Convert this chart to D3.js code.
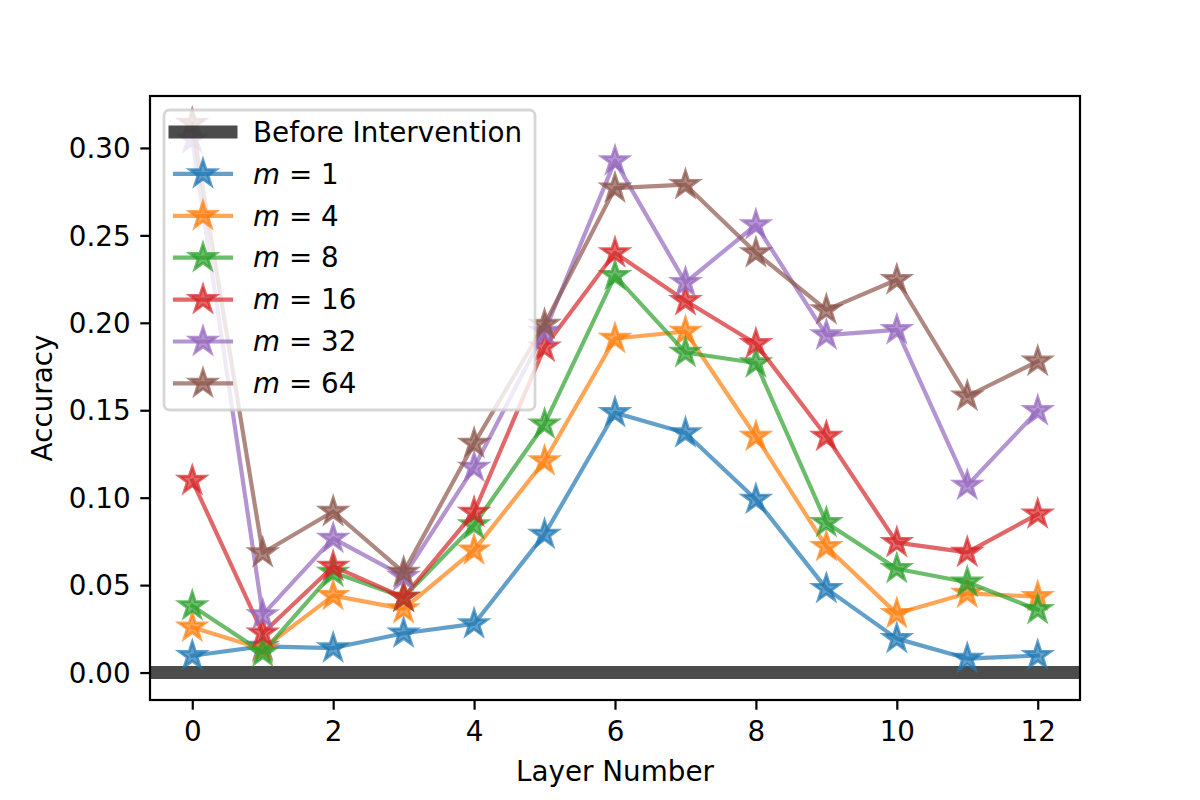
<!DOCTYPE html>
<html>
<head>
<meta charset="utf-8">
<script src="https://cdn.jsdelivr.net/npm/d3@7"></script>
<style>
  body { margin: 0; background: #fff; }
  text { font-family: "DejaVu Sans", sans-serif; }
</style>
</head>
<body>
<svg id="chart" width="1200" height="800"></svg>
<script>
// data
const layers = [0, 1, 2, 3, 4, 5, 6, 7, 8, 9, 10, 11, 12];
const m1  = [0.0096, 0.0150, 0.0140, 0.0225, 0.0278, 0.079, 0.1486, 0.137, 0.099, 0.048, 0.0194, 0.008, 0.0097];
const m4  = [0.0259, 0.0135, 0.0440, 0.0364, 0.0700, 0.121, 0.191, 0.195, 0.135, 0.072, 0.0337, 0.0453, 0.0434];
const m8  = [0.0381, 0.0115, 0.0573, 0.0430, 0.0844, 0.142, 0.227, 0.183, 0.177, 0.0857, 0.0594, 0.0516, 0.036];
const m16 = [0.1098, 0.0225, 0.0607, 0.0430, 0.0916, 0.186, 0.240, 0.2126, 0.188, 0.135, 0.0743, 0.0687, 0.0906];
const m32 = [0.305, 0.033, 0.0767, 0.055, 0.1173, 0.195, 0.2926, 0.223, 0.256, 0.193, 0.196, 0.107, 0.1497];
const m64 = [0.314, 0.0684, 0.0921, 0.0573, 0.131, 0.199, 0.277, 0.279, 0.240, 0.2074, 0.2246, 0.158, 0.178];
const baseline = 0.0;

const seriesNames = ["m1", "m4", "m8", "m16", "m32", "m64"];
const seriesLabels = ["1", "4", "8", "16", "32", "64"];
const seriesValues = [m1, m4, m8, m16, m32, m64];
const colors = ["#1f77b4", "#ff7f0e", "#2ca02c", "#d62728", "#9467bd", "#8c564b"];

const xTicks = [0, 2, 4, 6, 8, 10, 12];
const yTicks = [0.00, 0.05, 0.10, 0.15, 0.20, 0.25, 0.30];

const fs = 27.78; // 10pt at 200 dpi
const axL = 150, axR = 1080, axT = 96, axB = 700;

const svg = d3.select("#chart");

// matplotlib-like 5% margins
const xmin = d3.min(layers), xmax = d3.max(layers);
const allVals = seriesValues.flat().concat([baseline]);
const ymin = d3.min(allVals), ymax = d3.max(allVals);
const xScale = d3.scaleLinear()
    .domain([xmin - (xmax - xmin) * 0.05, xmax + (xmax - xmin) * 0.05])
    .range([axL, axR]);
const yScale = d3.scaleLinear()
    .domain([ymin - (ymax - ymin) * 0.05, ymax + (ymax - ymin) * 0.05])
    .range([axB, axT]);

svg.append("defs").append("clipPath").attr("id", "plotclip")
    .append("rect")
    .attr("x", axL).attr("y", axT)
    .attr("width", axR - axL).attr("height", axB - axT);

const plot = svg.append("g").attr("clip-path", "url(#plotclip)");

// star like matplotlib's '*' marker
function starPath(R) {
    const r = R * 0.381966;
    let pts = [];
    for (let i = 0; i < 10; i++) {
        const a = Math.PI / 2 + i * Math.PI / 5;
        const rr = i % 2 == 0 ? R : r;
        pts.push([rr * Math.cos(a), -rr * Math.sin(a)]);
    }
    return "M" + pts.map(p => p[0].toFixed(2) + "," + p[1].toFixed(2)).join("L") + "Z";
}
const star = starPath(13.9);

// before intervention line
plot.append("line")
    .attr("x1", axL).attr("x2", axR)
    .attr("y1", yScale(baseline)).attr("y2", yScale(baseline))
    .attr("stroke", "#000").attr("stroke-opacity", 0.7)
    .attr("stroke-width", 13);

const lineGen = d3.line()
    .x((d, i) => xScale(layers[i]))
    .y(d => yScale(d));

seriesValues.forEach((vals, si) => {
    const g = plot.append("g").attr("class", "series " + seriesNames[si]);
    g.append("path")
        .datum(vals)
        .attr("d", lineGen)
        .attr("fill", "none")
        .attr("stroke", colors[si])
        .attr("stroke-opacity", 0.7)
        .attr("stroke-width", 4.17)
        .attr("stroke-linejoin", "round")
        .attr("stroke-linecap", "square");
    g.selectAll(".mk")
        .data(vals)
        .enter()
        .append("path")
        .attr("class", "mk")
        .attr("d", star)
        .attr("transform", (d, i) => `translate(${xScale(layers[i])},${yScale(d)})`)
        .attr("fill", colors[si]).attr("fill-opacity", 0.7)
        .attr("stroke", colors[si]).attr("stroke-opacity", 0.7)
        .attr("stroke-width", 2.78)
        .attr("stroke-linejoin", "miter");
});

// axes
const xAxis = d3.axisBottom(xScale).tickValues(xTicks).tickSize(9.72).tickPadding(9.72).tickFormat(d3.format("d"));
const yAxis = d3.axisLeft(yScale).tickValues(yTicks).tickSize(9.72).tickPadding(9.72).tickFormat(d3.format(".2f"));

const gx = svg.append("g").attr("transform", `translate(0,${axB})`).call(xAxis);
const gy = svg.append("g").attr("transform", `translate(${axL},0)`).call(yAxis);
[gx, gy].forEach(g => {
    g.select(".domain").remove();
    g.selectAll(".tick line").attr("stroke", "#000").attr("stroke-width", 2.2);
    g.selectAll(".tick text").attr("font-size", fs).attr("fill", "#000")
        .style("font-family", "DejaVu Sans");
});
gx.selectAll(".tick text").attr("dy", "0.76em");
gy.selectAll(".tick text").attr("dy", "0.35em");

svg.append("rect")
    .attr("x", axL).attr("y", axT)
    .attr("width", axR - axL).attr("height", axB - axT)
    .attr("fill", "none").attr("stroke", "#000").attr("stroke-width", 2.2);

svg.append("text")
    .attr("x", (axL + axR) / 2).attr("y", 781)
    .attr("text-anchor", "middle").attr("font-size", fs)
    .text("Layer Number");

svg.append("text")
    .attr("transform", "translate(52,398) rotate(-90)")
    .attr("text-anchor", "middle").attr("font-size", fs)
    .text("Accuracy");

// legend
const leg = svg.append("g");
leg.append("rect")
    .attr("x", 164).attr("y", 110)
    .attr("width", 371).attr("height", 300)
    .attr("rx", 5.5).attr("ry", 5.5)
    .attr("fill", "#fff").attr("fill-opacity", 0.8)
    .attr("stroke", "#ccc").attr("stroke-opacity", 0.8)
    .attr("stroke-width", 2.78);

const rowY = i => 132 + i * 41.9;
const hx1 = 175, hx2 = 231, tx = 253;

leg.append("line")
    .attr("x1", hx1).attr("x2", hx2).attr("y1", rowY(0)).attr("y2", rowY(0))
    .attr("stroke", "#000").attr("stroke-opacity", 0.7)
    .attr("stroke-width", 13).attr("stroke-linecap", "square");
leg.append("text")
    .attr("x", tx).attr("y", rowY(0)).attr("dy", "0.35em")
    .attr("font-size", fs).text("Before Intervention");

seriesLabels.forEach((lab, si) => {
    const y = rowY(si + 1);
    leg.append("line")
        .attr("x1", hx1).attr("x2", hx2).attr("y1", y).attr("y2", y)
        .attr("stroke", colors[si]).attr("stroke-opacity", 0.7)
        .attr("stroke-width", 4.17).attr("stroke-linecap", "square");
    leg.append("path")
        .attr("d", star)
        .attr("transform", `translate(${(hx1 + hx2) / 2},${y})`)
        .attr("fill", colors[si]).attr("fill-opacity", 0.7)
        .attr("stroke", colors[si]).attr("stroke-opacity", 0.7)
        .attr("stroke-width", 2.78);
    const t = leg.append("text")
        .attr("x", tx).attr("y", y).attr("dy", "0.35em")
        .attr("font-size", fs);
    t.append("tspan").attr("font-style", "italic").text("m");
    t.append("tspan").text(" = " + lab);
});
</script>
</body>
</html>
